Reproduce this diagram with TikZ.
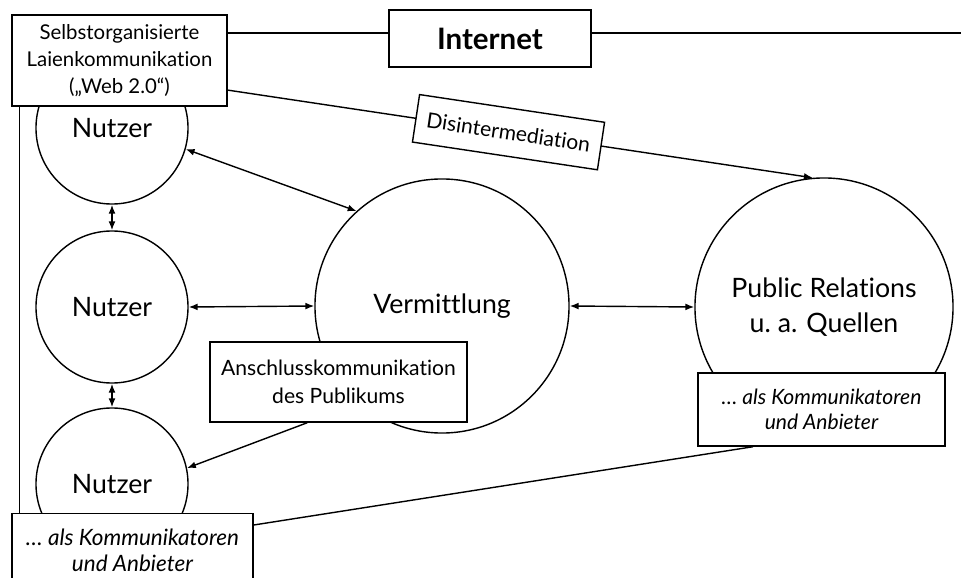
\documentclass[tikz,border=0pt]{standalone}
\usepackage{fontspec}
\setmainfont{Lato}[Ligatures=NoCommon]
\usetikzlibrary{arrows.meta,positioning,calc}

\begin{document}
\begin{tikzpicture}[x=0.025cm, y=-0.025cm, line width=1pt, >={Latex[length=2.2mm,width=1.7mm]}]

\tikzstyle{user} = [circle, draw, minimum size=3.8cm, inner sep=0pt, font=\fontsize{19pt}{23pt}\selectfont]

\tikzstyle{hub} = [circle, draw, inner sep=0pt, align=center, font=\fontsize{19pt}{25pt}\selectfont]

\tikzstyle{box} = [rectangle, draw, fill=white, align=center, inner sep=2pt, font=\fontsize{15pt}{19.5pt}\selectfont]

\tikzstyle{rolebox} = [box, font=\fontsize{16pt}{18.5pt}\selectfont\itshape]

\clip (0,0) rectangle (961,578);

% users
\node [user] (user_1) at (112,128) {Nutzer};
\node [user] (user_2) at (112,307) {Nutzer};
\node [user] (user_3) at (112,484) {Nutzer};

% mediation and sources
\node [hub, minimum size=6.35cm] (verm) at (442,306) {Vermittlung};
\node [hub, minimum size=6.45cm] (pr) at (824,307) {Public Relations\\u.~a. Quellen};

\path[<->] (user_1.south) edge (user_2.north);
\path[<->] (user_2.south) edge (user_3.north);
\path[<->] (user_1.-16) edge (verm.132);
\path[<->] (user_2.east) edge (verm.west);
\path[<->] (verm.east) edge (pr.west);

% boxes
\node [box, minimum width=5.375cm, minimum height=2.275cm, font=\fontsize{14.5pt}{19pt}\selectfont] (web_box) at (119.5,60.5) {Selbstorganisierte\\Laienkommunikation\\(„Web 2.0“)};
\node [box, minimum width=5.05cm, minimum height=1.425cm, font=\fontsize{21pt}{24pt}\selectfont\bfseries] (inet) at (490,38.5) {Internet};
\node [box, minimum width=6.425cm, minimum height=2cm] (anschluss) at (338.5,382) {Anschlusskommunikation\\des Publikums};
\node [rolebox, minimum width=6.175cm, minimum height=1.825cm, font=\fontsize{15pt}{18pt}\selectfont\itshape] (pr_role) at (821.5,409.5) {… als Kommunikatoren\\und Anbieter};
\node [rolebox, minimum width=6.025cm, minimum height=1.85cm, anchor=north] (user_role) at (132.5,513) {… als Kommunikatoren\\und Anbieter};

% internet line
\coordinate (rim) at (961,33);
\draw ([yshift=0.69cm]web_box.east) -- ([yshift=0.69cm]web_box.east -| inet.west);
\draw (inet.east |- rim) -- (rim);
\draw ([xshift=0.2cm]web_box.south west) -- ([xshift=0.2cm]web_box.south west |- user_role.north);

% disintermediation
\draw[->] ([yshift=-0.74cm]web_box.east) -- node [box, sloped, pos=0.48, minimum width=4.675cm, minimum height=1.2cm] (disint) {Disintermediation} (pr.95);

\draw[->] ([xshift=-0.78cm]anschluss.south) -- (user_3.12);
\draw ([xshift=-1.71cm]pr_role.south) -- ([yshift=-0.3cm]user_role.north east);

\end{tikzpicture}
\end{document}
